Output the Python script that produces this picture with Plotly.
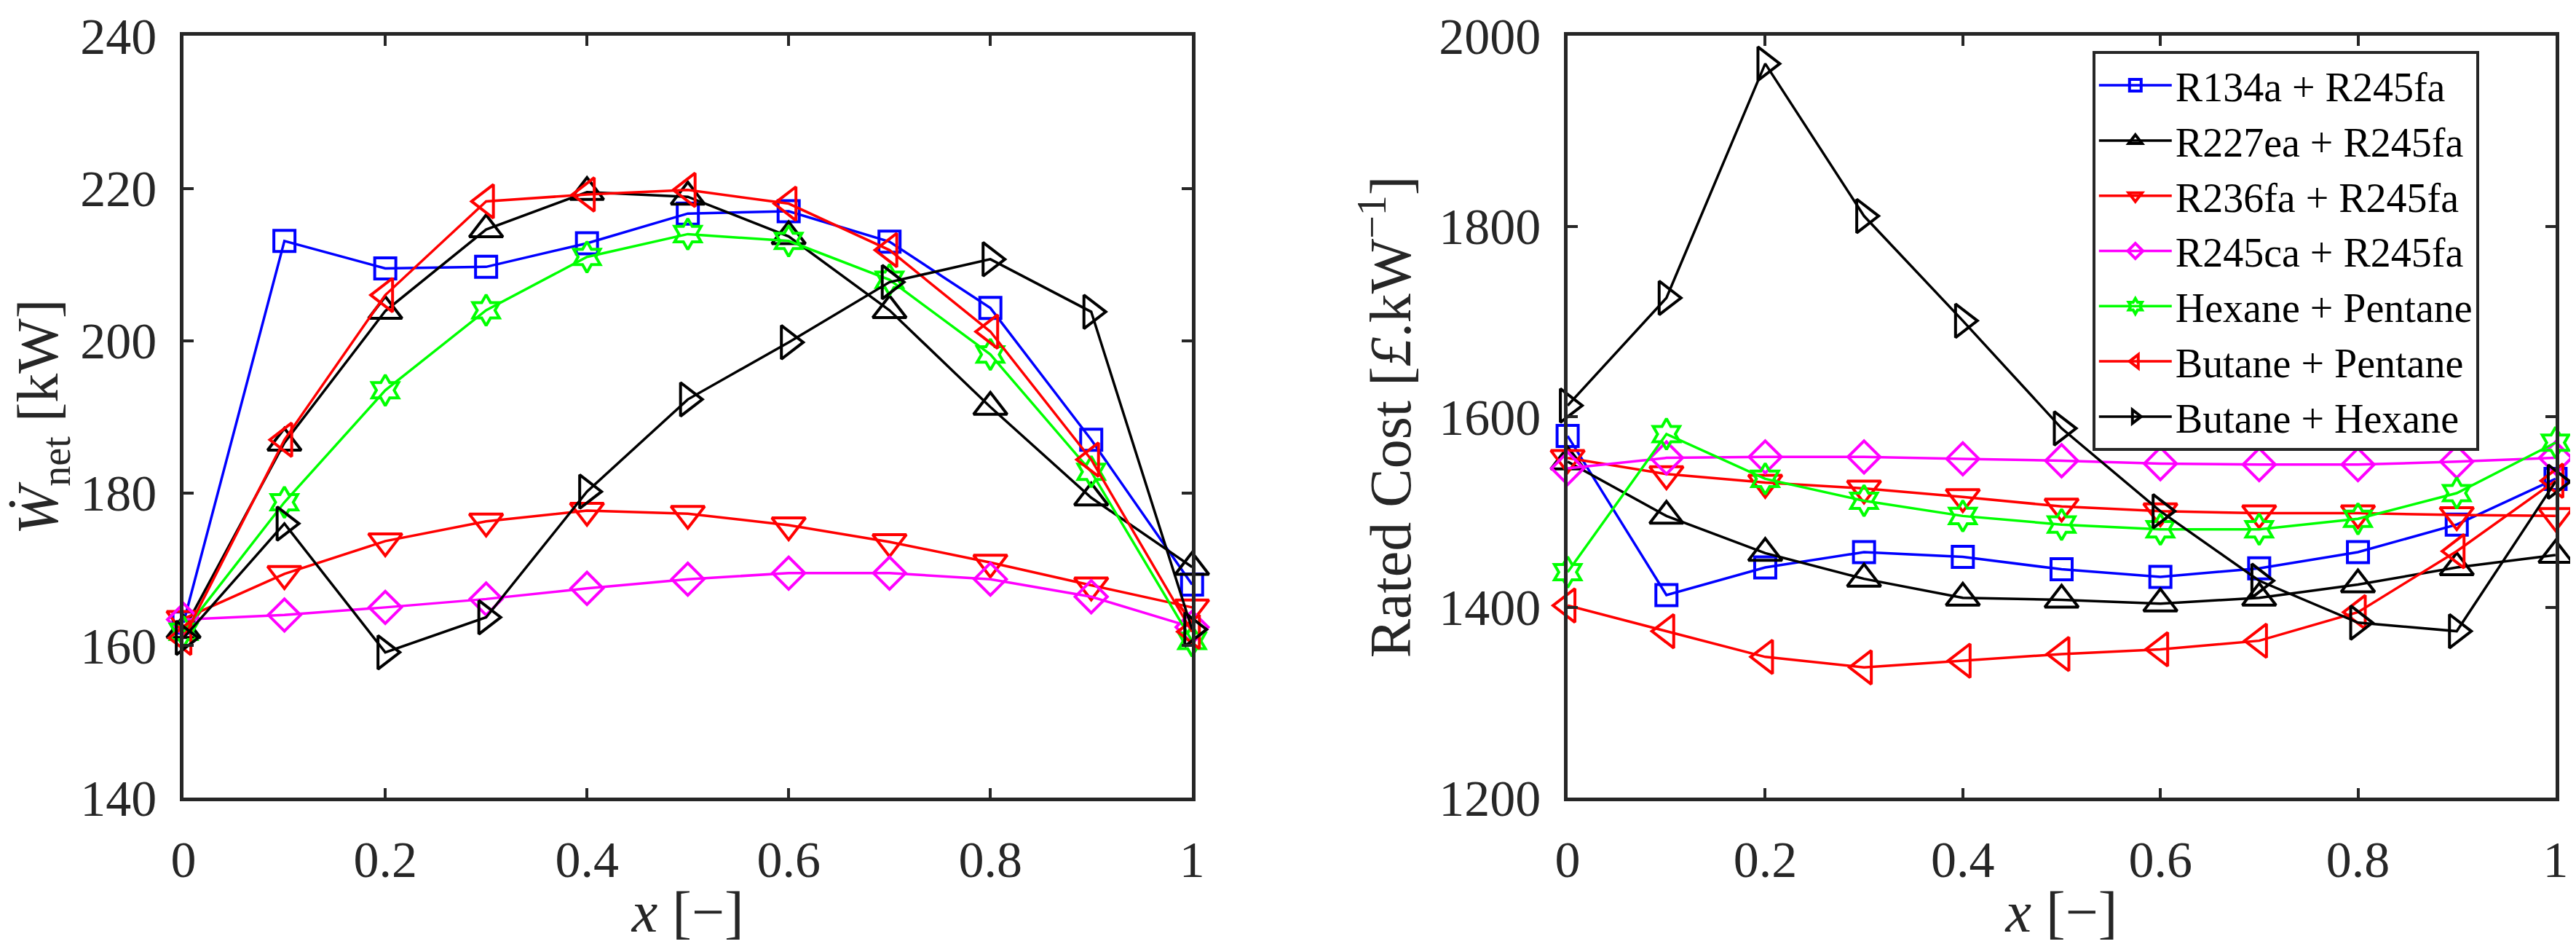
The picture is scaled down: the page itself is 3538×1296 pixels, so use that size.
"""Net power and rated cost of zeotropic mixtures against mass fraction x."""

import plotly.graph_objects as go

X_FRAC = [0, 0.1, 0.2, 0.3, 0.4, 0.5, 0.6, 0.7, 0.8, 0.9, 1.0]

MIXTURES = [
    'R134a + R245fa',
    'R227ea + R245fa',
    'R236fa + R245fa',
    'R245ca + R245fa',
    'Hexane + Pentane',
    'Butane + Pentane',
    'Butane + Hexane',
]

# net power output [kW]
W_R134A = [163, 213.1, 209.5, 209.7, 212.8, 216.7, 217, 213, 204.3, 187, 168]
W_R227EA = [162, 186.6, 203.9, 214.6, 219.5, 218.9, 213.7, 204, 191.3, 179.4, 170.3]
W_R236FA = [163.5, 169.4, 173.7, 176.3, 177.7, 177.3, 175.8, 173.6, 170.9, 167.9, 165]
W_R245CA = [163.4, 164, 165, 166.1, 167.5, 168.7, 169.5, 169.5, 168.7, 166.4, 162.4]
W_HEX_PENT = [161.8, 178.8, 193.5, 204, 211, 214, 213.1, 208, 198.2, 182.8, 160.6]
W_BUT_PENT = [161, 187, 206, 218.3, 219.2, 219.8, 218, 211.9, 201.2, 184.4, 161.8]
W_BUT_HEX = [161, 176, 159.1, 163.7, 180.2, 192.3, 199.8, 207.7, 210.7, 203.8, 162.1]

# rated cost [GBP/kW]
C_R134A = [1580, 1413, 1442, 1458, 1453, 1440, 1432, 1441, 1458, 1487, 1535]
C_R227EA = [1553, 1496, 1457, 1430, 1410, 1408, 1404, 1410, 1424, 1442, 1455]
C_R236FA = [1557, 1540, 1531, 1525, 1516, 1506, 1501, 1499, 1499, 1497, 1496]
C_R245CA = [1546, 1557, 1558, 1558, 1556, 1554, 1551, 1550, 1550, 1553, 1557]
C_HEX_PENT = [1437, 1582, 1535, 1512, 1496, 1487, 1482, 1482, 1493, 1520, 1573]
C_BUT_PENT = [1402, 1375, 1348, 1337, 1344, 1351, 1356, 1365, 1395, 1459, 1533]
C_BUT_HEX = [1612, 1725, 1971, 1811, 1701, 1588, 1501, 1428, 1384, 1375, 1532]

W_NET = [W_R134A, W_R227EA, W_R236FA, W_R245CA, W_HEX_PENT, W_BUT_PENT, W_BUT_HEX]
COST = [C_R134A, C_R227EA, C_R236FA, C_R245CA, C_HEX_PENT, C_BUT_PENT, C_BUT_HEX]

# matlab-ish line styles
COLOURS = ['#0000ff', '#000000', '#ff0000', '#ff00ff', '#00ff00', '#ff0000', '#000000']
SYMBOLS = ['square-open', 'triangle-up-open', 'triangle-down-open', 'diamond-open',
           'hexagram-open', 'triangle-left-open', 'triangle-right-open']
SIZES = [29, 40, 40, 34, 32, 40, 40]

FONT = 'Liberation Serif, DejaVu Serif, Times New Roman, serif'
AXIS_COL = '#262626'


def add_series(fig, values, col, legend):
    for i, name in enumerate(MIXTURES):
        fig.add_trace(go.Scatter(
            x=X_FRAC, y=values[i], name=name, mode='lines+markers',
            line=dict(color=COLOURS[i], width=3.5),
            marker=dict(symbol=SYMBOLS[i], size=SIZES[i],
                        line=dict(color=COLOURS[i], width=4)),
            cliponaxis=False, showlegend=legend,
            xaxis='x' if col == 1 else 'x2',
            yaxis='y' if col == 1 else 'y2',
        ))


def axis_style(**kw):
    style = dict(
        showline=True, linecolor=AXIS_COL, linewidth=4.5, mirror='ticks',
        ticks='inside', ticklen=14, tickwidth=4, tickcolor=AXIS_COL,
        showgrid=False, zeroline=False, automargin=False,
        ticklabeloverflow='allow',
        tickfont=dict(family=FONT, size=70, color=AXIS_COL),
    )
    style.update(kw)
    return style


fig = go.Figure()
add_series(fig, W_NET, 1, False)
add_series(fig, COST, 2, True)

x_title = dict(text='<i>x</i> [\u2212]', font=dict(family=FONT, size=80, color=AXIS_COL),
               standoff=6)

fig.update_layout(
    width=3538, height=1296,
    margin=dict(l=0, r=0, t=0, b=0, autoexpand=False),
    plot_bgcolor='white', paper_bgcolor='white',
    font=dict(family=FONT, color=AXIS_COL),
    xaxis=axis_style(domain=[0.069, 0.4605], range=[0, 1], dtick=0.2,
                     ticklabelstandoff=20, title=x_title, anchor='y'),
    yaxis=axis_style(domain=[0.161, 0.968], range=[140, 240], dtick=20,
                     ticklabelstandoff=18, anchor='x',
                     title=dict(text='<i>\u1E86</i><sub>net</sub> [kW]',
                                font=dict(family=FONT, size=80, color=AXIS_COL),
                                standoff=14)),
    xaxis2=axis_style(domain=[0.6063, 0.9898], range=[0, 1], dtick=0.2,
                      ticklabelstandoff=20, title=x_title, anchor='y2'),
    yaxis2=axis_style(domain=[0.161, 0.968], range=[1200, 2000], dtick=200,
                      ticklabelstandoff=18, anchor='x2',
                      title=dict(text='Rated Cost [<i>\u00A3</i>.kW<sup>\u22121</sup>]',
                                 font=dict(family=FONT, size=80, color=AXIS_COL),
                                 standoff=14)),
    legend=dict(
        x=0.81, y=0.952, xanchor='left', yanchor='top',
        bgcolor='white', bordercolor=AXIS_COL, borderwidth=4,
        font=dict(family=FONT, size=56, color='black'),
        itemwidth=100, tracegroupgap=0,
    ),
)

fig.write_html("out.html")
